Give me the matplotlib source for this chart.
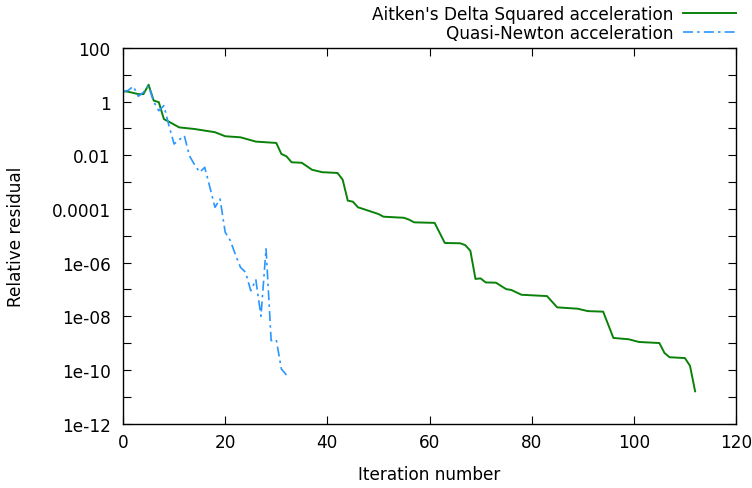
import matplotlib
matplotlib.use("Agg")
import matplotlib.pyplot as plt
from matplotlib.ticker import FixedLocator, FixedFormatter
import numpy as np

# Aitken's Delta Squared acceleration: iteration, log10(relative residual)
aitken_iter = [0, 1, 3, 4, 5, 6, 7, 8, 9, 11, 14, 18, 20, 23, 26, 30, 31, 32, 33, 35,
               37, 39, 42, 43, 44, 45, 46, 47, 50, 51, 55, 56, 57, 61, 63, 66, 67, 68, 69, 70,
               71, 73, 75, 76, 78, 83, 85, 89, 91, 94, 96, 99, 101, 105, 106, 107, 110, 111, 112]
aitken_log = [0.39, 0.37, 0.28, 0.28, 0.63, 0.04, -0.02, -0.65, -0.75, -0.96,
              -1.02, -1.14, -1.29, -1.33, -1.49, -1.54, -1.95, -2.04, -2.26, -2.28,
              -2.54, -2.63, -2.66, -2.91, -3.69, -3.73, -3.94, -4.00, -4.19, -4.29,
              -4.33, -4.40, -4.50, -4.52, -5.27, -5.28, -5.35, -5.56, -6.61, -6.59,
              -6.74, -6.75, -6.99, -7.02, -7.20, -7.25, -7.67, -7.72, -7.81, -7.83,
              -8.81, -8.86, -8.96, -9.00, -9.37, -9.53, -9.56, -9.85, -10.80]

# Quasi-Newton acceleration
qn_iter = list(range(33))
qn_log = [0.37, 0.42, 0.57, 0.20, 0.35, 0.59, 0.0, -0.34, -0.15, -0.90,
          -1.58, -1.42, -1.27, -2.02, -2.35, -2.63, -2.45, -3.19, -3.94, -3.63,
          -4.87, -5.18, -5.70, -6.18, -6.36, -7.05, -6.64, -8.00, -5.49, -8.91,
          -8.88, -9.97, -10.19]

ytick_vals = [1e2, 1, 1e-2, 1e-4, 1e-6, 1e-8, 1e-10, 1e-12]
ytick_labels = ["100", "1", "0.01", "0.0001", "1e-06", "1e-08", "1e-10", "1e-12"]
xtick_vals = [0, 20, 40, 60, 80, 100, 120]

plt.rcParams['font.family'] = ['DejaVu Sans']
plt.rcParams['font.size'] = 12.2

fig = plt.figure(figsize=(7.52, 4.89), dpi=100)
ax = fig.add_axes([0.1636, 0.1319, 0.8151, 0.7679])

ax.plot(aitken_iter, 10.0 ** np.array(aitken_log), color='#0a820a', lw=1.4,
        label="Aitken's Delta Squared acceleration")
ax.plot(qn_iter, 10.0 ** np.array(qn_log), color='#2a96ff', lw=1.2,
        dashes=(6, 2.5, 1.5, 2.5), label="Quasi-Newton acceleration")

ax.set_yscale('log')
ax.set_xlim(0, 120)
ax.set_ylim(1e-12, 1e2)
ax.yaxis.set_major_locator(FixedLocator(ytick_vals))
ax.yaxis.set_major_formatter(FixedFormatter(ytick_labels))
ax.yaxis.set_minor_locator(FixedLocator([10.0 ** k for k in range(-11, 2, 2)]))
ax.yaxis.set_minor_formatter(FixedFormatter([]))
ax.set_xticks(xtick_vals)

ax.tick_params(which='both', direction='in', top=True, right=True,
               length=6, width=0.8)
ax.tick_params(axis='y', pad=9)
ax.tick_params(axis='x', pad=7)
for s in ax.spines.values():
    s.set_linewidth(1.0)

ax.set_xlabel("Iteration number", labelpad=10)
ax.set_ylabel("Relative residual", va='center')
ax.yaxis.set_label_coords(-0.1746, 0.5)

leg = ax.legend(loc='lower right', bbox_to_anchor=(1.0, 1.016), markerfirst=False,
                frameon=False, handlelength=3.1, handletextpad=0.6,
                borderpad=0, borderaxespad=0, labelspacing=0.07)

fig.savefig("out.png", dpi=100)
